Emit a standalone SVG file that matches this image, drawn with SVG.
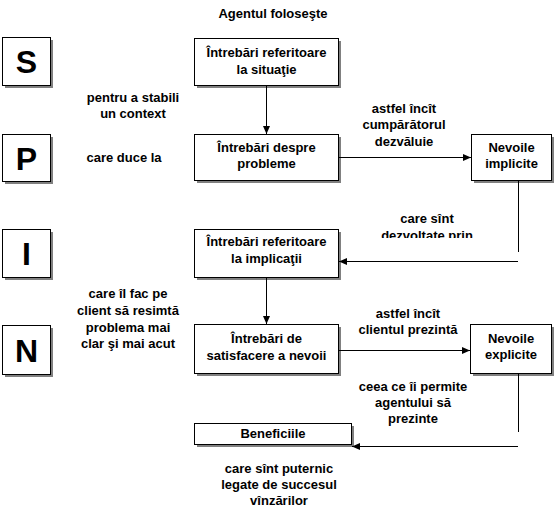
<svg xmlns="http://www.w3.org/2000/svg" width="559" height="519" viewBox="0 0 559 519">
<style>
text{font-family:"Liberation Sans",Arial,sans-serif;font-weight:bold;font-size:13px;fill:#000;text-anchor:middle}
.big{font-size:32px}
.shadow{fill:#808080}
.box{fill:#fff;stroke:#000;stroke-width:1}
.conn{stroke:#000;stroke-width:1;fill:none}
</style>
<defs>
<marker id="arr" viewBox="0 0 8 8" refX="8" refY="4" markerWidth="8" markerHeight="8" markerUnits="userSpaceOnUse" orient="auto">
<path d="M0,0.5 L8,4 L0,7.5 Z" fill="#000"/>
</marker>
<clipPath id="clipDez"><rect x="350" y="225" width="160" height="13"/></clipPath>
</defs>
<rect width="559" height="519" fill="#fff"/>

<text x="273" y="18">Agentul foloseşte</text>

<g id="letter-S">
<rect class="shadow" x="5" y="40" width="48" height="48"/>
<rect class="box" x="2.5" y="37.5" width="48" height="48"/>
<text class="big" x="26.5" y="73">S</text>
</g>
<g id="letter-P">
<rect class="shadow" x="5" y="137" width="48" height="47"/>
<rect class="box" x="2.5" y="134.5" width="48" height="47"/>
<text class="big" x="26.5" y="169.5">P</text>
</g>
<g id="letter-I">
<rect class="shadow" x="5" y="232" width="48" height="48"/>
<rect class="box" x="2.5" y="229.5" width="48" height="48"/>
<text class="big" x="26.5" y="265">I</text>
</g>
<g id="letter-N">
<rect class="shadow" x="5" y="328" width="48" height="49"/>
<rect class="box" x="2.5" y="325.5" width="48" height="49"/>
<text class="big" x="26.5" y="361.5">N</text>
</g>

<g id="q-situatie">
<rect class="shadow" x="197" y="41" width="144" height="47"/>
<rect class="box" x="194.5" y="38.5" width="144" height="47"/>
<text x="266.5" y="57">Întrebări referitoare</text>
<text x="266.5" y="74">la situaţie</text>
</g>
<g id="q-probleme">
<rect class="shadow" x="197" y="137" width="144" height="46"/>
<rect class="box" x="194.5" y="134.5" width="144" height="46"/>
<text x="266.5" y="152">Întrebări despre</text>
<text x="266.5" y="168">probleme</text>
</g>
<g id="nevoi-implicite">
<rect class="shadow" x="474" y="137" width="80" height="46"/>
<rect class="box" x="471.5" y="134.5" width="80" height="46"/>
<text x="511.5" y="152">Nevoile</text>
<text x="511.5" y="168">implicite</text>
</g>
<g id="q-implicatii">
<rect class="shadow" x="197" y="232" width="144" height="48"/>
<rect class="box" x="194.5" y="229.5" width="144" height="48"/>
<text x="266.5" y="246">Întrebări referitoare</text>
<text x="266.5" y="263">la implicaţii</text>
</g>
<g id="q-satisfacere">
<rect class="shadow" x="197" y="327" width="144" height="49"/>
<rect class="box" x="194.5" y="324.5" width="144" height="49"/>
<text x="266.5" y="343">Întrebări de</text>
<text x="266.5" y="360">satisfacere a nevoii</text>
</g>
<g id="nevoi-explicite">
<rect class="shadow" x="473" y="327" width="81" height="49"/>
<rect class="box" x="470.5" y="324.5" width="81" height="49"/>
<text x="511" y="343">Nevoile</text>
<text x="511" y="359">explicite</text>
</g>
<g id="beneficiile">
<rect class="shadow" x="197" y="426" width="157" height="21"/>
<rect class="box" x="194.5" y="423.5" width="157" height="21"/>
<text x="273" y="438">Beneficiile</text>
</g>

<g id="connectors">
<line class="conn" x1="266.5" y1="86" x2="266.5" y2="134" marker-end="url(#arr)"/>
<line class="conn" x1="339" y1="157.5" x2="471" y2="157.5" marker-end="url(#arr)"/>
<polyline class="conn" points="518.5,181 518.5,252"/>
<line class="conn" x1="518" y1="261.5" x2="339" y2="261.5" marker-end="url(#arr)"/>
<line class="conn" x1="266.5" y1="278" x2="266.5" y2="324" marker-end="url(#arr)"/>
<line class="conn" x1="339" y1="350.5" x2="470" y2="350.5" marker-end="url(#arr)"/>
<polyline class="conn" points="518.5,374 518.5,432"/>
<line class="conn" x1="518" y1="446.5" x2="352" y2="446.5" marker-end="url(#arr)"/>
</g>

<g id="labels">
<text x="133" y="102">pentru a stabili</text>
<text x="133" y="118">un context</text>
<text x="124" y="162">care duce la</text>
<text x="404" y="113">astfel încît</text>
<text x="404" y="129">cumpărătorul</text>
<text x="404" y="146">dezvăluie</text>
<text x="427" y="223">care sînt</text>
<text x="427" y="240" clip-path="url(#clipDez)">dezvoltate prin</text>
<text x="128" y="298">care îl fac pe</text>
<text x="128" y="315">client să resimtă</text>
<text x="128" y="332">problema mai</text>
<text x="128" y="348">clar şi mai acut</text>
<text x="408" y="318">astfel încît</text>
<text x="408" y="334">clientul prezintă</text>
<text x="413" y="391">ceea ce îi permite</text>
<text x="413" y="407">agentului să</text>
<text x="413" y="423">prezinte</text>
<text x="279" y="473">care sînt puternic</text>
<text x="279" y="489">legate de succesul</text>
<text x="279" y="505">vînzărilor</text>
</g>
</svg>
